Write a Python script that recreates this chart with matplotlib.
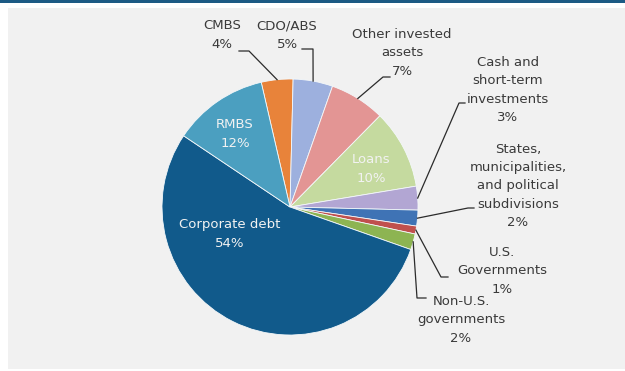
import matplotlib.pyplot as plt
from matplotlib.patches import Rectangle
import numpy as np

# Portfolio breakdown, clockwise from the top
categories = ['CMBS', 'CDO/ABS', 'Other invested\nassets', 'Loans',
              'Cash and\nshort-term\ninvestments',
              'States,\nmunicipalities,\nand political\nsubdivisions',
              'U.S.\nGovernments', 'Non-U.S.\ngovernments',
              'Corporate debt', 'RMBS']
shares = [4, 5, 7, 10, 3, 2, 1, 2, 54, 12]
colors = ['#E8833A', '#9DB0DE', '#E39594', '#C5DA9F', '#B2A6D3',
          '#3F73B5', '#C0504D', '#8DB452', '#115A8B', '#4B9FC0']

W, H = 625, 371
CX, CY, R = 290, 207, 128   # pie centre and radius in pixels


def to_data(px, py):
    return (px - CX) / R, (CY - py) / R


fig = plt.figure(figsize=(W / 100, H / 100), dpi=100, facecolor='white')

# background panel and header bar
fig.add_artist(Rectangle((8 / W, 2 / H), 1, (H - 10) / H, transform=fig.transFigure,
                         facecolor='#F1F1F1', edgecolor='none', zorder=0))
fig.add_artist(Rectangle((0, (H - 3) / H), 1, 3 / H, transform=fig.transFigure,
                         facecolor='#1C5A84', edgecolor='none', zorder=0))

ax = fig.add_axes([(CX - R) / W, (H - CY - R) / H, 2 * R / W, 2 * R / H])
ax.set_facecolor('none')

wedges, _ = ax.pie(shares, colors=colors, startangle=103, counterclock=False,
                   wedgeprops=dict(edgecolor='#F4F8FA', linewidth=0.6))
ax.set_xlim(-1, 1)
ax.set_ylim(-1, 1)
ax.axis('off')

font = dict(family='DejaVu Sans', fontsize=9.5, linespacing=1.53)

# labels drawn inside their slices (white)
inside = {3: (371, 169), 8: (230, 234), 9: (235, 134)}
for i, (px, py) in inside.items():
    x, y = to_data(px, py)
    ax.text(x, y, f'{categories[i]}\n{shares[i]}%', color='#F2F2F2',
            ha='center', va='center', **font)

# outside labels: text centre, then leader path (elbow, end near text)
outside = {
    0: ((222, 35), [(249, 51), (239, 51)]),
    1: ((287, 35), [(313, 49), (302, 49)]),
    2: ((402, 53), [(383, 77), (390, 77)]),
    4: ((508, 90), [(459, 103), (465, 103)]),
    5: ((518, 186), [(468, 208), (474, 208)]),
    6: ((502, 271), [(441, 277), (448, 277)]),
    7: ((461, 320), [(417, 298), (426, 298)]),
}
for i, ((px, py), path) in outside.items():
    x, y = to_data(px, py)
    ax.text(x, y, f'{categories[i]}\n{shares[i]}%', color='#3A3A3A',
            ha='center', va='center', **font)
    w = wedges[i]
    mid = np.deg2rad((w.theta1 + w.theta2) / 2)
    xs = [w.r * np.cos(mid)] + [to_data(*p)[0] for p in path]
    ys = [w.r * np.sin(mid)] + [to_data(*p)[1] for p in path]
    ax.plot(xs, ys, color='#2B2B2B', linewidth=0.9, clip_on=False)

fig.savefig('out.png', dpi=100, facecolor=fig.get_facecolor())
